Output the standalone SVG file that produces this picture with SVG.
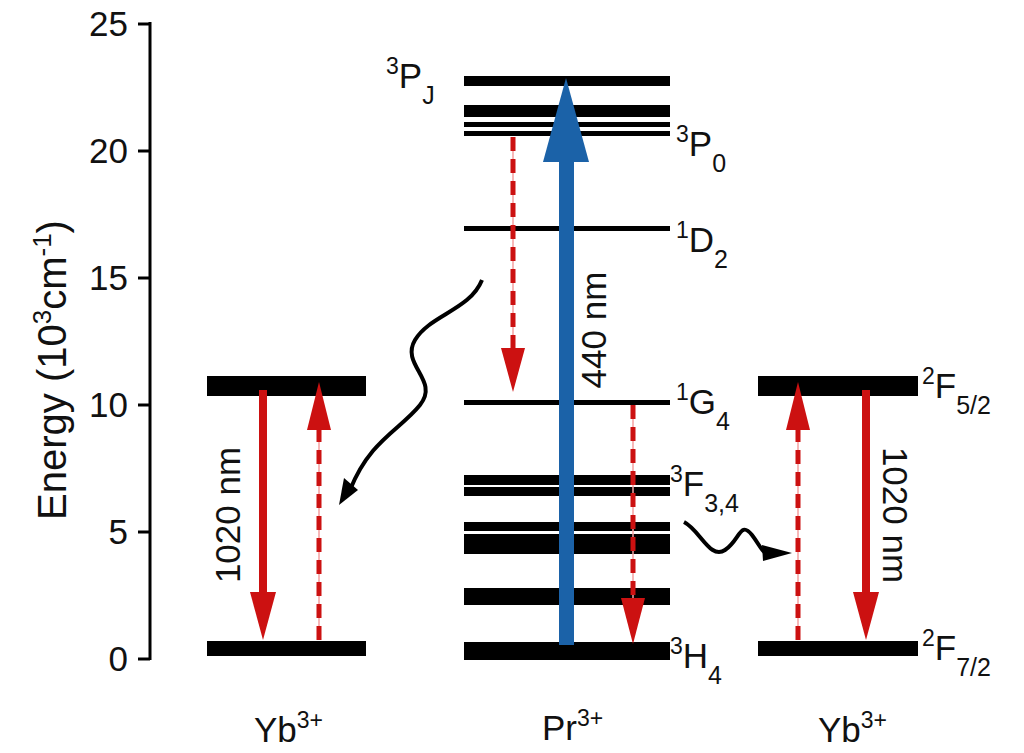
<svg xmlns="http://www.w3.org/2000/svg" width="1024" height="753" viewBox="0 0 1024 753">
<style>
text{font-family:"Liberation Sans",Arial,sans-serif;fill:#111}
.t{font-size:35px}
.lv{fill:#000}
.dash{stroke:#cc1111;stroke-width:5;stroke-dasharray:14,8;fill:none}
.thin{stroke:#f5a0a0;stroke-width:1.5}
.sol{stroke:#cc1111;stroke-width:8}
</style>
<rect width="1024" height="753" fill="#fff"/>
<g id="axis">
<line x1="150" y1="22" x2="150" y2="660" stroke="#000" stroke-width="3"/>
<g stroke="#000" stroke-width="3">
<line x1="138" y1="24" x2="150" y2="24"/><line x1="138" y1="151" x2="150" y2="151"/><line x1="138" y1="278" x2="150" y2="278"/><line x1="138" y1="405" x2="150" y2="405"/><line x1="138" y1="532" x2="150" y2="532"/><line x1="138" y1="659" x2="150" y2="659"/>
</g>
<g class="t" text-anchor="end">
<text x="128" y="36">25</text><text x="128" y="163">20</text><text x="128" y="290">15</text><text x="128" y="417">10</text><text x="128" y="544">5</text><text x="128" y="671">0</text>
</g>
<text transform="translate(66,370) rotate(-90)" text-anchor="middle" font-size="40">Energy (10<tspan dy="-15" font-size="26">3</tspan><tspan dy="15">cm</tspan><tspan dy="-15" font-size="26">-1</tspan><tspan dy="15">)</tspan></text>
</g>
<g id="pr">
<rect class="lv" x="464" y="76" width="206" height="10"/>
<rect class="lv" x="464" y="105" width="206" height="12"/>
<rect class="lv" x="464" y="122" width="206" height="5"/>
<rect class="lv" x="464" y="131" width="206" height="5"/>
<rect class="lv" x="464" y="226" width="206" height="5"/>
<rect class="lv" x="464" y="400" width="206" height="5"/>
<rect class="lv" x="464" y="475" width="206" height="10"/>
<rect class="lv" x="464" y="487" width="206" height="9"/>
<rect class="lv" x="464" y="522" width="206" height="9"/>
<rect class="lv" x="464" y="534" width="206" height="20"/>
<rect class="lv" x="464" y="588" width="206" height="17"/>
<rect class="lv" x="464" y="642" width="206" height="18"/>
</g>
<g id="labels" class="t">
<text x="386" y="88"><tspan font-size="23" dy="-14">3</tspan><tspan dy="14">P</tspan><tspan font-size="25" dy="16">J</tspan></text>
<text x="676" y="156"><tspan font-size="23" dy="-14">3</tspan><tspan dy="14">P</tspan><tspan font-size="25" dy="16">0</tspan></text>
<text x="676" y="252"><tspan font-size="23" dy="-14">1</tspan><tspan dy="14">D</tspan><tspan font-size="25" dy="16">2</tspan></text>
<text x="676" y="414"><tspan font-size="23" dy="-14">1</tspan><tspan dy="14">G</tspan><tspan font-size="25" dy="16">4</tspan></text>
<text x="670" y="496"><tspan font-size="23" dy="-14">3</tspan><tspan dy="14">F</tspan><tspan font-size="25" dy="16">3,4</tspan></text>
<text x="670" y="668"><tspan font-size="23" dy="-14">3</tspan><tspan dy="14">H</tspan><tspan font-size="25" dy="16">4</tspan></text>
<text x="922" y="398"><tspan font-size="23" dy="-14">2</tspan><tspan dy="14">F</tspan><tspan font-size="25" dy="16">5/2</tspan></text>
<text x="922" y="660"><tspan font-size="23" dy="-14">2</tspan><tspan dy="14">F</tspan><tspan font-size="25" dy="16">7/2</tspan></text>
<text x="254" y="742">Yb<tspan font-size="23" dy="-14">3+</tspan></text>
<text x="542" y="740">Pr<tspan font-size="23" dy="-14">3+</tspan></text>
<text x="818" y="742">Yb<tspan font-size="23" dy="-14">3+</tspan></text>
<text transform="translate(240,515) rotate(-90)" text-anchor="middle">1020 nm</text>
<text transform="translate(883,515) rotate(90)" text-anchor="middle">1020 nm</text>
<text transform="translate(606,330) rotate(-90)" text-anchor="middle">440 nm</text>
</g>
<g id="yb-left">
<rect class="lv" x="207" y="376" width="159" height="20"/>
<rect class="lv" x="207" y="641" width="159" height="15"/>
</g>
<g id="yb-right">
<rect class="lv" x="758" y="376" width="160" height="20"/>
<rect class="lv" x="758" y="641" width="160" height="15"/>
</g>
<g id="connectors">
<rect x="559" y="160" width="15" height="485" fill="#1b62a8"/>
<path d="M566,78 L589,162 L543,162Z" fill="#1b62a8"/>
<line class="thin" x1="513" y1="137" x2="513" y2="350"/><line class="dash" x1="513" y1="137" x2="513" y2="350"/>
<path d="M501,348 L525,348 L513,392Z" fill="#cc1111"/>
<line class="thin" x1="633" y1="405" x2="633" y2="600"/><line class="dash" x1="633" y1="405" x2="633" y2="600"/>
<path d="M621,598 L645,598 L633,644Z" fill="#cc1111"/>
<line class="sol" x1="263" y1="390" x2="263" y2="595"/>
<path d="M250,592 L276,592 L263,640Z" fill="#cc1111"/>
<line class="thin" x1="319" y1="640" x2="319" y2="428"/><line class="dash" x1="319" y1="640" x2="319" y2="428"/>
<path d="M307,430 L331,430 L319,382Z" fill="#cc1111"/>
<line class="sol" x1="866" y1="390" x2="866" y2="595"/>
<path d="M853,592 L879,592 L866,640Z" fill="#cc1111"/>
<line class="thin" x1="798" y1="640" x2="798" y2="428"/><line class="dash" x1="798" y1="640" x2="798" y2="428"/>
<path d="M786,430 L810,430 L798,382Z" fill="#cc1111"/>
<path d="M482,280 C470,310 430,315 415,340 C400,365 440,380 420,405 C400,430 370,440 350,490" fill="none" stroke="#000" stroke-width="4"/>
<path d="M339,505 L344,478 L358,490Z" fill="#000"/>
<path d="M684,522 C700,530 710,560 725,550 C740,540 740,520 752,535 C762,548 762,555 772,553" fill="none" stroke="#000" stroke-width="4"/>
<path d="M792,553 L762,545 L763,561Z" fill="#000"/>
</g>
</svg>
